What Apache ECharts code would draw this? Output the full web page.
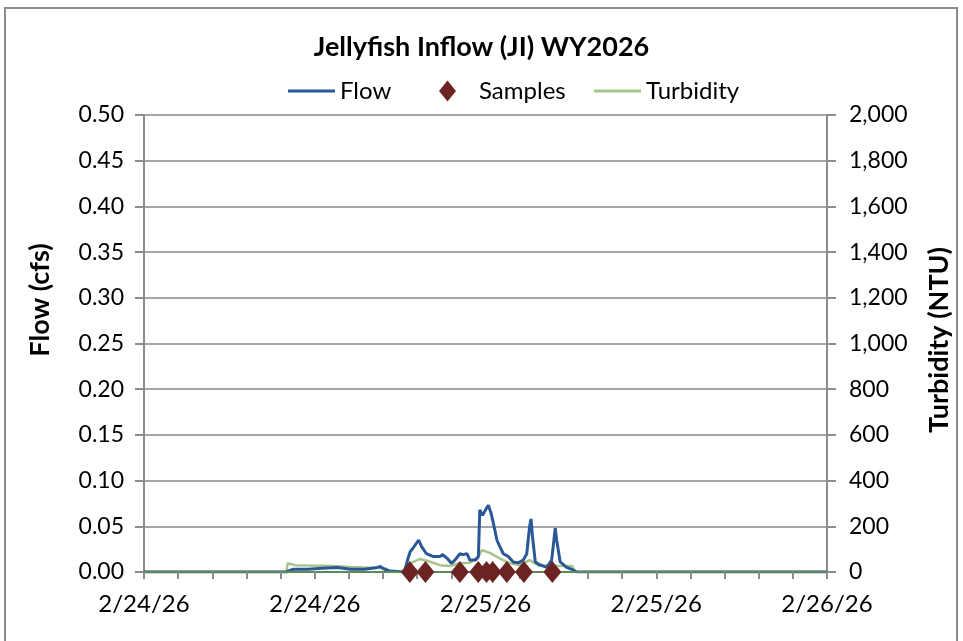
<!DOCTYPE html>
<html>
<head>
<meta charset="utf-8">
<script src="https://cdn.jsdelivr.net/npm/echarts@6/dist/echarts.min.js"></script>
<style>
  html, body { margin: 0; padding: 0; background: #fff; }
  #chart { width: 963px; height: 641px; }
</style>
</head>
<body>
<div id="chart"></div>
<script>
// hours since 2/24/26 00:00
var tickLabels = ['2/24/26', '2/24/26', '2/25/26', '2/25/26', '2/26/26'];

var flowHours = [0, 10.0, 10.1, 10.5, 11.5, 12.5, 13.6, 14.5, 15.5, 16.4, 16.6, 16.9, 17.3, 18.3,
  18.5, 18.7, 18.9, 19.3, 19.5, 19.85, 20.3, 20.8, 21.0, 21.3, 21.6, 21.85, 22.2, 22.4, 22.7, 22.9,
  23.3, 23.5, 23.6, 23.8, 24.0, 24.2, 24.3, 24.4, 24.6, 24.8, 25.0, 25.25, 25.6, 25.95, 26.3, 26.65,
  26.9, 27.1, 27.2, 27.3, 27.5, 27.8, 28.3, 28.65, 28.9, 29.0, 29.25, 29.7, 30.2, 30.4, 48];
var flowValues = [0, 0, 0.002, 0.003, 0.003, 0.004, 0.005, 0.003, 0.003, 0.005, 0.006, 0.003, 0.001, 0,
  0.012, 0.022, 0.026, 0.035, 0.028, 0.020, 0.017, 0.017, 0.019, 0.015, 0.0095, 0.013, 0.020, 0.019, 0.020, 0.013,
  0.013, 0.017, 0.068, 0.062, 0.068, 0.073, 0.075, 0.064, 0.050, 0.035, 0.028, 0.020, 0.017, 0.011, 0.010, 0.013,
  0.020, 0.050, 0.058, 0.039, 0.011, 0.008, 0.005, 0.013, 0.048, 0.035, 0.011, 0.005, 0.002, 0, 0];

var turbHours = [0, 10.0, 10.1, 10.6, 11.5, 12.5, 13.5, 14.5, 15.5, 16.5, 17.0, 17.3, 18.5,
  18.7, 19.4, 20.1, 20.8, 21.5, 22.2, 22.9, 23.5, 23.75, 24.3, 25.0, 25.7, 26.4, 27.1, 27.8,
  28.5, 29.2, 30.1, 30.2, 30.4, 48];
var turbValues = [0, 0, 38, 30, 28, 27, 26, 22, 20, 18, 15, 0, 0,
  38, 57, 45, 30, 26, 38, 41, 67, 96, 84, 60, 38, 30, 52, 26,
  30, 26, 26, 9, 0, 0];

var sampleHours = [18.68, 19.78, 22.2, 23.49, 24.07, 24.5, 25.5, 26.7, 28.7];
var sampleValues = [0, 0, 0, 0, 0, 0, 0, 0, 0];

function pairs(xs, ys) {
  return xs.map(function (x, i) { return [x, ys[i]]; });
}

var font = 'Lato, "Open Sans", sans-serif';
var gray = '#8c8c8c';
var flowColor = '#2a5796';
var turbColor = '#a8c48a';
var sampleColor = '#6b2422';
var legendText = { fontFamily: font, fontSize: 24, color: '#000' };

var chart = echarts.init(document.getElementById('chart'));
var option = {
  animation: false,
  textStyle: { fontFamily: font },
  title: {
    text: 'Jellyfish Inflow (JI) WY2026',
    left: 'center',
    top: 29,
    textStyle: { fontFamily: font, fontSize: 27, fontWeight: 'bold', color: '#000' }
  },
  legend: [
    { data: [{ name: 'Flow', icon: 'rect', itemStyle: { color: flowColor } }],
      left: 283, top: 74, itemWidth: 47, itemHeight: 3, textStyle: legendText },
    { data: [{ name: 'Samples', icon: 'diamond', itemStyle: { color: sampleColor, opacity: 1 } }],
      left: 434, top: 74, itemWidth: 17, itemHeight: 21,
      textStyle: { fontFamily: font, fontSize: 24, color: '#000', padding: [0, 0, 0, 18] } },
    { data: [{ name: 'Turbidity', icon: 'rect', itemStyle: { color: turbColor } }],
      left: 589, top: 74, itemWidth: 47, itemHeight: 3, textStyle: legendText }
  ],
  grid: { left: 144, right: 136, top: 115, bottom: 69 },
  xAxis: {
    type: 'value',
    min: 0,
    max: 48,
    interval: 12,
    z: 10,
    axisLine: { lineStyle: { color: '#5b8a57', width: 2 } },
    axisTick: { show: true, length: 7, lineStyle: { color: gray, width: 2 } },
    minorTick: { show: true, splitNumber: 5, length: 7, lineStyle: { color: gray, width: 2 } },
    splitLine: { show: false },
    axisLabel: {
      margin: 20,
      fontSize: 24,
      fontFamily: font,
      color: '#000',
      formatter: function (v) { return tickLabels[Math.round(v / 12)]; }
    }
  },
  yAxis: [
    {
      type: 'value',
      min: 0,
      max: 0.5,
      interval: 0.05,
      position: 'left',
      axisLine: { show: true, onZero: false, lineStyle: { color: gray, width: 2 } },
      axisTick: { show: true, length: 9, lineStyle: { color: gray, width: 2 } },
      splitLine: { show: true, lineStyle: { color: '#a6a6a6', width: 2 } },
      axisLabel: {
        margin: 20, fontSize: 23, fontFamily: font, color: '#000',
        formatter: function (v) { return v.toFixed(2); }
      }
    },
    {
      type: 'value',
      min: 0,
      max: 2000,
      interval: 200,
      position: 'right',
      axisLine: { show: true, onZero: false, lineStyle: { color: gray, width: 2 } },
      axisTick: { show: true, length: 9, lineStyle: { color: gray, width: 2 } },
      splitLine: { show: false },
      axisLabel: {
        margin: 22, fontSize: 23, fontFamily: font, color: '#000',
        formatter: function (v) { return v.toLocaleString('en-US'); }
      }
    }
  ],
  graphic: [
    { type: 'rect', shape: { x: 5, y: 8, width: 952, height: 660 },
      style: { fill: 'none', stroke: '#8c8c8c', lineWidth: 2 }, z: -10 },
    { type: 'text', x: 40, y: 300, rotation: Math.PI / 2,
      style: { text: 'Flow (cfs)', font: 'bold 27px ' + font, fill: '#000', align: 'center', verticalAlign: 'middle' } },
    { type: 'text', x: 939, y: 340, rotation: Math.PI / 2,
      style: { text: 'Turbidity (NTU)', font: 'bold 27px ' + font, fill: '#000', align: 'center', verticalAlign: 'middle' } }
  ],
  series: [
    {
      name: 'Flow',
      type: 'line',
      yAxisIndex: 0,
      symbol: 'none',
      z: 3,
      lineStyle: { color: flowColor, width: 3 },
      itemStyle: { color: flowColor },
      data: pairs(flowHours, flowValues)
    },
    {
      name: 'Samples',
      type: 'scatter',
      yAxisIndex: 0,
      symbol: 'diamond',
      symbolSize: [18, 22],
      z: 20,
      itemStyle: { color: sampleColor, opacity: 1 },
      data: pairs(sampleHours, sampleValues)
    },
    {
      name: 'Turbidity',
      type: 'line',
      yAxisIndex: 1,
      symbol: 'none',
      z: 2,
      lineStyle: { color: turbColor, width: 2.5 },
      itemStyle: { color: turbColor },
      data: pairs(turbHours, turbValues)
    }
  ]
};
chart.setOption(option);
</script>
</body>
</html>
